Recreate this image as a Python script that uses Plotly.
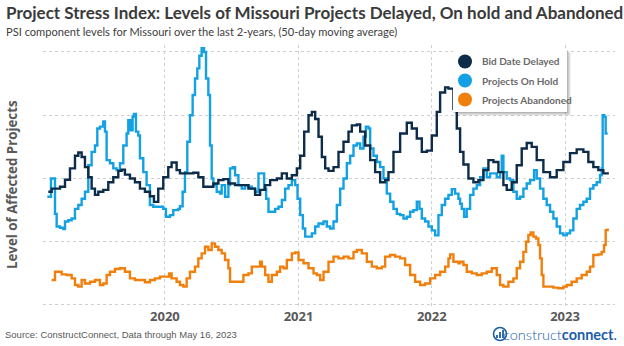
import pandas as pd
import plotly.graph_objects as go

# ---- data: 50-day moving averages, time as decimal years ----
bid_delayed_t = [
    2019.125, 2019.15, 2019.175, 2019.2125, 2019.25, 2019.2875, 2019.325, 2019.35,
    2019.375, 2019.4, 2019.425, 2019.45, 2019.475, 2019.5, 2019.5375, 2019.575,
    2019.6125, 2019.65, 2019.675, 2019.7, 2019.7375, 2019.775, 2019.8125, 2019.85,
    2019.8875, 2019.9175, 2019.95, 2019.9875,
    2020.025, 2020.05, 2020.0875, 2020.1125, 2020.1625, 2020.2125, 2020.25, 2020.2875,
    2020.325, 2020.3625, 2020.4, 2020.4375, 2020.475, 2020.525, 2020.575, 2020.625,
    2020.675, 2020.7125, 2020.75, 2020.7875, 2020.8375, 2020.875, 2020.9125, 2020.95,
    2020.9875,
    2021.0125, 2021.0425, 2021.075, 2021.1, 2021.125, 2021.15, 2021.175, 2021.2,
    2021.225, 2021.2625, 2021.3, 2021.3375, 2021.375, 2021.4, 2021.4375, 2021.4625,
    2021.5, 2021.5375, 2021.575, 2021.6125, 2021.65, 2021.675, 2021.7125, 2021.7625,
    2021.8125, 2021.85, 2021.8875, 2021.925, 2021.9625,
    2022.0, 2022.0375, 2022.0625, 2022.1, 2022.125, 2022.1625, 2022.1875, 2022.2125,
    2022.2375, 2022.275, 2022.3125, 2022.35, 2022.3875, 2022.425, 2022.4625, 2022.5,
    2022.5375, 2022.5625, 2022.6, 2022.6375, 2022.675, 2022.7125, 2022.75, 2022.7875,
    2022.8375, 2022.8875, 2022.9375, 2022.9875,
    2023.0375, 2023.0875, 2023.1375, 2023.175, 2023.2125, 2023.25, 2023.2875, 2023.32,
]
bid_delayed = [
    89.5, 92, 92, 93.4, 99, 108, 118, 120.5,
    117, 109, 101, 92, 87, 89.5, 91, 97,
    101, 106, 107, 103, 100, 97, 92, 89.5,
    86, 81.5, 92, 101,
    109, 112.6, 106.6, 104, 104, 104.5, 101, 93.4,
    93.4, 96, 98.7, 99.5, 96, 94.7, 94.7, 92,
    87, 91, 94.7, 98.7, 100, 104, 100, 102.6,
    108,
    118, 137, 150, 152.6, 147, 133, 117, 108,
    106, 109, 121, 129, 137, 142, 142.6, 137,
    126, 114.5, 105, 97, 98.7, 105, 121, 135.5,
    144, 139.5, 131.6, 121, 122,
    134, 152.6, 168, 172, 171, 155, 139.5, 121,
    111, 100, 97, 98.7, 106.6, 114.5, 113, 105,
    94.7, 91, 97, 110.5, 123.7, 128, 125, 114.5,
    105, 101, 106.6, 113,
    120, 123, 121, 113, 109, 106.6, 104, 105,
]

on_hold_t = [
    2019.1175, 2019.1375, 2019.145, 2019.1625, 2019.175, 2019.1875, 2019.2125, 2019.2375,
    2019.25, 2019.275, 2019.3, 2019.325, 2019.35, 2019.375, 2019.4, 2019.425,
    2019.45, 2019.475, 2019.4925, 2019.5125, 2019.5375, 2019.55, 2019.5625, 2019.5875,
    2019.6125, 2019.6375, 2019.6625, 2019.6875, 2019.7125, 2019.725, 2019.7425, 2019.7575,
    2019.7675, 2019.7825, 2019.8, 2019.8125, 2019.8375, 2019.8625, 2019.8875, 2019.9125,
    2019.95, 2019.9875,
    2020.0075, 2020.0375, 2020.0625, 2020.1, 2020.1125, 2020.1325, 2020.15, 2020.1675,
    2020.1875, 2020.2075, 2020.225, 2020.2425, 2020.2575, 2020.275, 2020.2925, 2020.3075,
    2020.325, 2020.3375, 2020.35, 2020.3625, 2020.3875, 2020.4125, 2020.425, 2020.45,
    2020.475, 2020.4875, 2020.5075, 2020.525, 2020.55, 2020.575, 2020.6, 2020.625,
    2020.65, 2020.675, 2020.7, 2020.725, 2020.7425, 2020.7575, 2020.775, 2020.8,
    2020.825, 2020.85, 2020.875, 2020.9, 2020.925, 2020.95, 2020.975, 2020.9925,
    2021.0125, 2021.0325, 2021.05, 2021.075, 2021.1, 2021.125, 2021.15, 2021.175,
    2021.1875, 2021.2125, 2021.2375, 2021.2625, 2021.2875, 2021.3125, 2021.3375, 2021.3625,
    2021.3875, 2021.4125, 2021.4375, 2021.4625, 2021.4875, 2021.505, 2021.525, 2021.5375,
    2021.5625, 2021.5875, 2021.6125, 2021.6375, 2021.6625, 2021.6875, 2021.7125, 2021.7375,
    2021.7625, 2021.7875, 2021.8125, 2021.8375, 2021.8625, 2021.8875, 2021.9075, 2021.925,
    2021.95, 2021.975,
    2022.0, 2022.025, 2022.05, 2022.075, 2022.1, 2022.125, 2022.15, 2022.175,
    2022.2, 2022.2125, 2022.225, 2022.2425, 2022.2625, 2022.2875, 2022.3125, 2022.3375,
    2022.3625, 2022.3875, 2022.4125, 2022.4375, 2022.4625, 2022.4875, 2022.5125, 2022.525,
    2022.5375, 2022.5625, 2022.5875, 2022.6125, 2022.6375, 2022.6625, 2022.6875, 2022.7125,
    2022.7375, 2022.7675, 2022.7875, 2022.8125, 2022.8375, 2022.8625, 2022.8875, 2022.9125,
    2022.9375, 2022.9625, 2022.9875,
    2023.0125, 2023.0375, 2023.0625, 2023.0875, 2023.1125, 2023.1375, 2023.1625, 2023.1875,
    2023.2125, 2023.2375, 2023.2625, 2023.275, 2023.2825, 2023.295, 2023.305, 2023.32,
]
on_hold = [
    85.5, 85.5, 100, 100, 72, 62, 61, 60,
    66, 67, 68.4, 76, 79, 84, 89.5, 110.5,
    121, 126, 139.5, 141, 145, 137, 114.5, 112,
    108, 106.6, 112, 126, 135.5, 146, 138, 149,
    151, 137, 134, 116, 105, 94.7, 79, 77.6,
    77.6, 76,
    69.7, 71, 75, 76, 78, 89.5, 105, 129,
    150, 166, 179, 187, 197, 203, 200, 179,
    166, 126, 100, 94.7, 89.5, 88, 94.7, 85.5,
    94.7, 108, 109, 102.6, 94.7, 92, 94.7, 93.4,
    92, 89.5, 104, 104, 92, 84, 73.7, 73.7,
    76, 77.6, 83, 92, 94.7, 98.7, 94.7, 84,
    71, 60.5, 54, 54, 56.6, 62, 64.5, 64,
    66, 62, 60.5, 66, 79, 92, 100, 112,
    118, 126, 127.6, 123.7, 133, 141, 139.5, 123.7,
    118, 113, 109, 100, 88, 81.6, 76, 72,
    71, 68.4, 69.7, 73.7, 75, 81.6, 76, 68.4,
    66, 62,
    59, 55, 71, 79, 84, 87, 91.6, 88,
    84, 80, 76, 69.7, 76, 87, 92, 94.7,
    101, 108, 101, 104, 104, 101, 105, 118,
    105, 100, 98.7, 89.5, 84, 85.5, 92, 96,
    98.7, 106.6, 100, 92, 84, 79, 73.7, 68.4,
    62, 56.6, 55,
    56.6, 59, 68.4, 76, 79, 81.6, 84, 92,
    94.7, 97, 102.6, 108, 150, 148.7, 135.5, 135.5,
]

abandoned_t = [
    2019.15, 2019.175, 2019.2, 2019.225, 2019.2625, 2019.3, 2019.325, 2019.35,
    2019.375, 2019.4, 2019.4375, 2019.475, 2019.5125, 2019.5375, 2019.5625, 2019.5875,
    2019.625, 2019.6625, 2019.7, 2019.7375, 2019.775, 2019.8125, 2019.85, 2019.8875,
    2019.925, 2019.9625,
    2020.0, 2020.0325, 2020.05, 2020.0875, 2020.1125, 2020.1375, 2020.1625, 2020.1875,
    2020.225, 2020.25, 2020.275, 2020.3, 2020.325, 2020.35, 2020.375, 2020.4,
    2020.425, 2020.45, 2020.475, 2020.4875, 2020.525, 2020.5625, 2020.5875, 2020.625,
    2020.65, 2020.6825, 2020.7125, 2020.725, 2020.75, 2020.775, 2020.8, 2020.8375,
    2020.8625, 2020.8875, 2020.9125, 2020.95, 2020.975,
    2021.0, 2021.0375, 2021.075, 2021.1125, 2021.1375, 2021.1625, 2021.1875, 2021.225,
    2021.2625, 2021.3, 2021.3375, 2021.375, 2021.4125, 2021.4375, 2021.475, 2021.5125,
    2021.55, 2021.5875, 2021.625, 2021.65, 2021.6875, 2021.725, 2021.7625, 2021.8,
    2021.8375, 2021.875, 2021.9125, 2021.95, 2021.9875,
    2022.025, 2022.0625, 2022.1, 2022.125, 2022.1375, 2022.1625, 2022.2, 2022.2125,
    2022.2375, 2022.2625, 2022.3, 2022.3375, 2022.375, 2022.4125, 2022.45, 2022.4875,
    2022.5125, 2022.5375, 2022.575, 2022.6125, 2022.6375, 2022.6625, 2022.6875, 2022.7075,
    2022.725, 2022.7425, 2022.7625, 2022.7825, 2022.8, 2022.8125, 2022.825, 2022.8375,
    2022.875, 2022.9125, 2022.95, 2022.9875,
    2023.0125, 2023.05, 2023.0875, 2023.125, 2023.1625, 2023.1875, 2023.2125, 2023.25,
    2023.275, 2023.2925, 2023.305, 2023.32,
]
abandoned = [
    19.7, 26.3, 26.3, 24.2, 23.7, 21, 15.8, 14.5,
    19.7, 17, 18.4, 19.7, 15.8, 17, 23.7, 26.3,
    28.4, 29, 26.3, 21, 19.7, 19.7, 18, 19.7,
    21, 22.4,
    22.4, 25, 21, 18.4, 15.8, 14.5, 21, 26.3,
    30.3, 36.8, 40.8, 46, 43.4, 48.7, 46, 43.4,
    40.8, 35.5, 29, 18.4, 18.4, 18.4, 23.7, 25,
    30.3, 30.3, 34.2, 30.3, 23.7, 18.4, 23.7, 26.3,
    30.3, 29, 35.5, 40.8, 41.6,
    35.5, 33, 29, 25, 23.7, 19.7, 26.3, 34.2,
    38.2, 36.8, 38.2, 36.8, 42, 43.4, 40.8, 34.2,
    30.3, 29, 30.3, 38.2, 39.5, 38.2, 36.8, 31.6,
    23.7, 18.4, 15.8, 17, 21,
    23.7, 26.3, 30.3, 36.8, 40, 34.2, 33, 34.2,
    31.6, 26.3, 25, 23.7, 25, 26.3, 29, 23.7,
    15.8, 14.5, 18.4, 21, 29, 34.2, 42, 50,
    55.3, 57.4, 54, 52.6, 47.4, 36.8, 23.7, 14.5,
    14.5, 13.7, 13.2, 14.5,
    15.8, 18.4, 21, 23.7, 26.3, 30.3, 39.5, 40,
    42, 47.4, 59.2, 60.5,
]

series_names = ["Bid Date Delayed", "Projects On Hold", "Projects Abandoned"]
series_colors = ["#0c2c49", "#14a1e3", "#f07f0c"]
year_ticks = [2020, 2021, 2022, 2023]


def to_date(y):
    """Decimal year -> timestamp."""
    yr = int(y)
    start = pd.Timestamp(yr, 1, 1)
    end = pd.Timestamp(yr + 1, 1, 1)
    return start + (end - start) * (y - yr)


# ---- canvas geometry (pixels) ----
W, H = 624, 346
L, R, T, B = 43, 615, 45, 307


def px(x):
    return (x - L) / (R - L)


def py(y):
    return (B - y) / (B - T)


fig = go.Figure()

series = [
    (on_hold_t, on_hold, 1),
    (abandoned_t, abandoned, 2),
    (bid_delayed_t, bid_delayed, 0),
]
for t, v, i in series:
    assert len(t) == len(v)
    fig.add_trace(go.Scatter(
        x=[to_date(a) for a in t], y=v, mode="lines", name=series_names[i],
        line=dict(color=series_colors[i], width=2.4, shape="hv"), showlegend=False,
    ))

grid = dict(showgrid=True, gridcolor="#cfcfcf", griddash="dot", gridwidth=1,
            zeroline=False, showline=False, ticks="")

fig.update_xaxes(
    **grid,
    range=[to_date(2019.085), to_date(2023.375)],
    tickvals=[to_date(y) for y in year_ticks],
    ticktext=[str(y) for y in year_ticks],
    tickfont=dict(family="Open Sans", size=13, color="#595959", weight="bold"),
)
fig.update_yaxes(**grid, range=[-1.6, 205.5], dtick=50, showticklabels=False)

annotations = [
    dict(text="Project Stress Index: Levels of Missouri Projects Delayed, On hold and Abandoned",
         x=px(4), y=py(12), xanchor="left", yanchor="middle",
         font=dict(family="Lato", size=17, color="#3a3a3a", weight="bold")),
    dict(text="PSI component levels for Missouri over the last 2-years, (50-day moving average)",
         x=px(4), y=py(31), xanchor="left", yanchor="middle",
         font=dict(family="Lato", size=11.1, color="#404040")),
    dict(text="Level of Affected Projects", textangle=-90,
         x=px(12), y=py(185), xanchor="center", yanchor="middle",
         font=dict(family="Open Sans", size=13.3, color="#595959", weight="bold")),
    dict(text="Source: ConstructConnect, Data through May 16, 2023",
         x=px(3), y=py(334), xanchor="left", yanchor="middle",
         font=dict(family="Liberation Sans", size=9.5, color="#595959")),
    dict(text="<span style='font-weight:300'>construct</span><b>connect</b>.",
         x=px(619), y=py(334), xanchor="right", yanchor="middle",
         font=dict(family="Lato", size=14.5, color="#1d5ea6")),
]

shapes = []
# legend panel with a soft drop shadow
lx0, lx1, ly0, ly1 = 453, 567, 50, 112
for k, op in [(4, 0.05), (3, 0.07), (2, 0.09), (1, 0.10)]:
    shapes.append(dict(type="rect", xref="paper", yref="paper",
                       x0=px(lx0 + k - 1), x1=px(lx1 + k), y0=py(ly1 + k), y1=py(ly0 + k - 1),
                       fillcolor=f"rgba(0,0,0,{op})", line=dict(width=0), layer="above"))
shapes.append(dict(type="rect", xref="paper", yref="paper",
                   x0=px(lx0), x1=px(lx1), y0=py(ly1), y1=py(ly0),
                   fillcolor="white", line=dict(width=0), layer="above"))
rows = [61.5, 80.5, 99.5]
for name, color, ry in zip(series_names, series_colors, rows):
    shapes.append(dict(type="circle", xref="paper", yref="paper",
                       x0=px(458), x1=px(472), y0=py(ry + 7), y1=py(ry - 7),
                       fillcolor=color, line=dict(width=0), layer="above"))
    annotations.append(dict(text=name, x=px(480), y=py(ry), xanchor="left", yanchor="middle",
                            font=dict(family="Lato", size=10, color="#6a6a6a", weight="bold")))

# small logo mark next to the wordmark
cx, cy = 500, 334
shapes.append(dict(type="circle", xref="paper", yref="paper",
                   x0=px(cx - 6.5), x1=px(cx + 6.5), y0=py(cy + 6.5), y1=py(cy - 6.5),
                   line=dict(color="#1d5ea6", width=1.6), fillcolor="rgba(0,0,0,0)"))
for bx, top in [(-3, 1), (0, -2), (3, -4)]:
    shapes.append(dict(type="line", xref="paper", yref="paper",
                       x0=px(cx + bx), x1=px(cx + bx), y0=py(cy + 4), y1=py(cy + top),
                       line=dict(color="#1d5ea6", width=1.8)))

for a in annotations:
    a.update(xref="paper", yref="paper", showarrow=False)

fig.update_layout(
    width=W, height=H,
    margin=dict(l=L, r=W - R, t=T, b=H - B, pad=0),
    paper_bgcolor="white", plot_bgcolor="white",
    showlegend=False,
    annotations=annotations, shapes=shapes,
)

fig.write_html("out.html")
